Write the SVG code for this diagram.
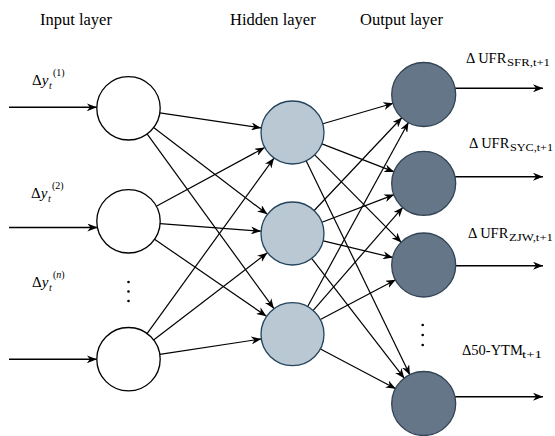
<svg xmlns="http://www.w3.org/2000/svg" width="555" height="436" viewBox="0 0 555 436">
<defs>
<marker id="arr" viewBox="0 0 10 8" markerWidth="10" markerHeight="8" refX="10" refY="4" orient="auto" markerUnits="userSpaceOnUse">
<path d="M0,0 L10,4 L0,8 L3,4 Z" fill="#000"/>
</marker>
<style>
text{font-family:'Liberation Serif','Times New Roman',serif;fill:#000}
.title{font-size:16.5px}
.m{font-size:15px}
.s{font-size:10px}
.o{font-size:14.5px}
.os{font-size:10px}
.in{fill:#fff;stroke:#000;stroke-width:1.3}
.hid{fill:#bac8d3;stroke:#23445d;stroke-width:1.3}
.out{fill:#647687;stroke:#314354;stroke-width:1.3}
.e line{stroke:#000;stroke-width:1.2;marker-end:url(#arr)}
.io line{stroke:#000;stroke-width:1.5;marker-end:url(#arr)}
</style>
</defs>
<rect width="555" height="436" fill="#fff"/>
<g id="titles" font-family="Liberation Serif, serif">
<text class="title" x="40" y="25">Input layer</text>
<text class="title" x="230" y="25">Hidden layer</text>
<text class="title" x="360" y="25">Output layer</text>
</g>
<g id="connectors">
<g class="io">
<line x1="9" y1="107.3" x2="96.8" y2="107.3"/>
<line x1="9" y1="227.5" x2="97.4" y2="227.5"/>
<line x1="9" y1="359.3" x2="96.8" y2="359.3"/>
<line x1="455.1" y1="88.3" x2="543" y2="88.3"/>
<line x1="455" y1="176.7" x2="543" y2="176.7"/>
<line x1="455.7" y1="265.7" x2="543" y2="265.7"/>
<line x1="455" y1="396.7" x2="543" y2="396.7"/>
</g>
<g class="e">
<line x1="159.76" y1="112.91" x2="261.24" y2="127.89"/>
<line x1="153.62" y1="127.47" x2="267.38" y2="214.33"/>
<line x1="147.07" y1="133.87" x2="273.93" y2="308.63"/>
<line x1="156.29" y1="206.26" x2="264.71" y2="147.54"/>
<line x1="160.01" y1="223.64" x2="260.99" y2="231.16"/>
<line x1="154.53" y1="239.22" x2="266.47" y2="316.28"/>
<line x1="147.02" y1="333.60" x2="273.98" y2="158.10"/>
<line x1="153.58" y1="339.98" x2="267.42" y2="252.72"/>
<line x1="159.74" y1="354.44" x2="261.26" y2="338.96"/>
<line x1="322.85" y1="123.71" x2="393.35" y2="103.29"/>
<line x1="321.97" y1="143.91" x2="394.23" y2="171.89"/>
<line x1="314.73" y1="154.95" x2="401.47" y2="242.55"/>
<line x1="306.27" y1="160.94" x2="409.93" y2="375.06"/>
<line x1="314.19" y1="210.52" x2="402.01" y2="117.48"/>
<line x1="322.01" y1="222.21" x2="394.19" y2="194.59"/>
<line x1="323.23" y1="240.88" x2="392.97" y2="257.62"/>
<line x1="311.81" y1="258.52" x2="404.39" y2="378.48"/>
<line x1="307.67" y1="306.48" x2="408.53" y2="122.22"/>
<line x1="313.23" y1="310.35" x2="402.97" y2="207.15"/>
<line x1="320.45" y1="319.46" x2="395.75" y2="279.74"/>
<line x1="320.44" y1="348.96" x2="395.76" y2="388.74"/>
</g>
</g>
<g id="input1"><circle class="in" cx="128.5" cy="108.3" r="31.7"/></g>
<g id="input2"><circle class="in" cx="128.5" cy="221.3" r="31.7"/></g>
<g id="input3"><circle class="in" cx="128.5" cy="359.2" r="31.7"/></g>
<g id="hidden1"><circle class="hid" cx="292.5" cy="132.5" r="31.5"/></g>
<g id="hidden2"><circle class="hid" cx="292.5" cy="233.5" r="31.5"/></g>
<g id="hidden3"><circle class="hid" cx="292.5" cy="334.2" r="31.5"/></g>
<g id="output1"><circle class="out" cx="423.7" cy="94.5" r="32"/></g>
<g id="output2"><circle class="out" cx="423.7" cy="183.3" r="32"/></g>
<g id="output3"><circle class="out" cx="423.7" cy="265" r="32"/></g>
<g id="output4"><circle class="out" cx="423.7" cy="403.5" r="32"/></g>
<g id="dots">
<circle cx="128.5" cy="282" r="1.3"/>
<circle cx="128.5" cy="291.5" r="1.3"/>
<circle cx="128.5" cy="301" r="1.3"/>
<circle cx="422.7" cy="325" r="1.3"/>
<circle cx="422.7" cy="335" r="1.3"/>
<circle cx="422.7" cy="345" r="1.3"/>
</g>
<g id="input-labels">
<text class="m" x="32" y="85">Δ<tspan font-style="italic">y</tspan></text>
<text class="s" x="49" y="89" font-style="italic">t</text>
<text class="s" x="53" y="76">(1)</text>
<text class="m" x="31" y="198">Δ<tspan font-style="italic">y</tspan></text>
<text class="s" x="48" y="202" font-style="italic">t</text>
<text class="s" x="52" y="189">(2)</text>
<text class="m" x="32" y="287">Δ<tspan font-style="italic">y</tspan></text>
<text class="s" x="49" y="291" font-style="italic">t</text>
<text class="s" x="53" y="278">(<tspan font-style="italic">n</tspan>)</text>
</g>
<g id="output-labels">
<text class="o" x="466" y="63">Δ UFR</text>
<text class="os" x="507" y="66" textLength="43" lengthAdjust="spacingAndGlyphs">SFR,t+1</text>
<text class="o" x="469" y="148">Δ UFR</text>
<text class="os" x="510" y="151" textLength="43" lengthAdjust="spacingAndGlyphs">SYC,t+1</text>
<text class="o" x="468" y="238">Δ UFR</text>
<text class="os" x="509" y="241" textLength="44" lengthAdjust="spacingAndGlyphs">ZJW,t+1</text>
<text class="o" x="462" y="355">Δ50-YTM</text>
<text class="os" x="522" y="358" textLength="20" lengthAdjust="spacingAndGlyphs">t+1</text>
</g>
</svg>
